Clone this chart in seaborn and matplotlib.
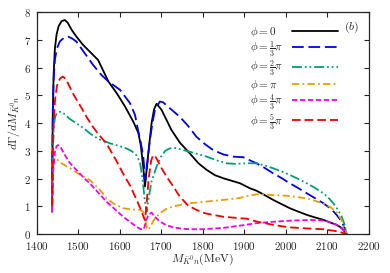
import numpy as np
import pandas as pd
import seaborn as sns
import matplotlib
matplotlib.use("Agg")
import matplotlib.pyplot as plt

# ---------------- data ----------------
x_phi0 = [1437.2, 1438, 1439, 1441, 1444, 1448, 1453, 1460, 1468, 1475, 1485, 1496, 1512, 1528,
          1548, 1573, 1593, 1613, 1633, 1645, 1651, 1657, 1661, 1665, 1669, 1677, 1683, 1689,
          1701, 1725, 1745, 1769, 1790, 1810, 1830, 1850, 1870, 1890, 1914, 1930, 1950, 1970,
          1990, 2010, 2030, 2051, 2070, 2091, 2110, 2123, 2135, 2143, 2147]
y_phi0 = [0.8, 3.0, 4.5, 5.8, 6.7, 7.2, 7.5, 7.68, 7.72, 7.62, 7.35, 7.12, 6.82, 6.58,
          6.28, 5.5, 5.08, 4.6, 4.05, 3.65, 3.2, 2.4, 1.71, 2.3, 2.9, 4.0, 4.5, 4.7,
          4.48, 3.75, 3.3, 2.91, 2.55, 2.31, 2.12, 2.01, 1.92, 1.83, 1.65, 1.56, 1.4, 1.23,
          1.08, 0.93, 0.81, 0.69, 0.6, 0.51, 0.4, 0.33, 0.22, 0.08, 0.0]

x_phi1 = [1437.2, 1438, 1439, 1441, 1444, 1449, 1456, 1466, 1476, 1486, 1496, 1516, 1536,
          1556, 1573, 1601, 1625, 1637, 1645, 1651, 1657, 1662, 1667, 1673, 1679, 1685,
          1697, 1705, 1720, 1745, 1765, 1785, 1805, 1825, 1850, 1874, 1898, 1915, 1930,
          1950, 1970, 1990, 2010, 2030, 2051, 2070, 2091, 2110, 2123, 2135, 2143, 2147]
y_phi1 = [0.8, 3.0, 4.5, 5.6, 6.3, 6.7, 6.95, 7.08, 7.12, 7.05, 6.94, 6.52, 6.1,
          5.74, 5.5, 5.2, 4.72, 4.3, 3.7, 3.3, 2.79, 1.95, 2.6, 3.39, 4.0, 4.48,
          4.78, 4.75, 4.55, 4.23, 3.9, 3.51, 3.25, 3.03, 2.87, 2.79, 2.77, 2.65, 2.55,
          2.38, 2.19, 2.02, 1.83, 1.66, 1.47, 1.3, 1.11, 0.9, 0.69, 0.45, 0.2, 0.0]

x_phi2 = [1437.2, 1439, 1441, 1445, 1450, 1456, 1465, 1480, 1500, 1515, 1528, 1550, 1577,
          1600, 1616, 1630, 1640, 1649, 1655, 1660, 1665, 1670, 1677, 1689, 1700, 1710,
          1721, 1735, 1753, 1780, 1810, 1835, 1858, 1880, 1906, 1930, 1950, 1970, 1990,
          2010, 2030, 2051, 2070, 2091, 2105, 2115, 2125, 2135, 2142, 2147]
y_phi2 = [0.8, 3.0, 3.9, 4.25, 4.38, 4.41, 4.35, 4.15, 3.95, 3.8, 3.63, 3.42, 3.27,
          3.17, 3.09, 2.98, 2.85, 2.6, 2.0, 1.3, 0.8, 1.3, 1.9, 2.43, 2.8, 3.0,
          3.09, 3.1, 3.03, 2.92, 2.79, 2.65, 2.55, 2.53, 2.55, 2.55, 2.47, 2.37, 2.26,
          2.13, 1.99, 1.83, 1.67, 1.47, 1.28, 1.11, 0.9, 0.63, 0.35, 0.0]

x_phi3 = [1437.2, 1439, 1441, 1444, 1450, 1460, 1475, 1488, 1500, 1515, 1528, 1540, 1555,
          1568, 1585, 1608, 1630, 1649, 1657, 1662, 1666, 1669, 1674, 1682, 1697, 1712,
          1729, 1750, 1769, 1790, 1810, 1830, 1850, 1870, 1890, 1910, 1930, 1950, 1970,
          1990, 2010, 2030, 2051, 2070, 2091, 2110, 2123, 2135, 2143, 2147]
y_phi3 = [0.8, 2.0, 2.6, 2.75, 2.68, 2.55, 2.42, 2.31, 2.18, 2.05, 1.95, 1.78, 1.55,
          1.29, 1.1, 0.93, 0.88, 0.87, 0.8, 0.5, 0.2, 0.14, 0.25, 0.5, 0.75, 0.9,
          0.99, 1.06, 1.11, 1.14, 1.17, 1.2, 1.23, 1.26, 1.3, 1.38, 1.43, 1.43, 1.4,
          1.39, 1.37, 1.33, 1.28, 1.2, 1.1, 0.95, 0.78, 0.5, 0.2, 0.0]

x_phi4 = [1437.2, 1440, 1444, 1448, 1452, 1458, 1468, 1478, 1488, 1500, 1515, 1528, 1548,
          1568, 1588, 1608, 1628, 1642, 1650, 1656, 1660, 1664, 1670, 1677, 1685, 1697,
          1712, 1729, 1750, 1769, 1800, 1850, 1900, 1930, 1970, 2010, 2051, 2080, 2100,
          2123, 2135, 2143, 2147]
y_phi4 = [0.8, 2.3, 2.95, 3.17, 3.21, 3.12, 2.85, 2.6, 2.43, 2.25, 2.0, 1.83, 1.5,
          1.17, 0.9, 0.63, 0.4, 0.25, 0.18, 0.15, 0.25, 0.5, 0.7, 0.77, 0.62, 0.45,
          0.32, 0.24, 0.19, 0.17, 0.17, 0.22, 0.32, 0.39, 0.44, 0.48, 0.5, 0.5, 0.46,
          0.33, 0.2, 0.08, 0.0]

x_phi5 = [1437.2, 1439, 1441, 1444, 1449, 1456, 1463, 1470, 1480, 1490, 1500, 1510, 1520,
          1535, 1550, 1568, 1590, 1608, 1625, 1641, 1652, 1658, 1661, 1665, 1670, 1676,
          1681, 1688, 1700, 1713, 1730, 1745, 1765, 1785, 1805, 1825, 1850, 1866, 1890,
          1906, 1930, 1950, 1970, 1990, 2010, 2030, 2051, 2091, 2123, 2147]
y_phi5 = [1.0, 3.0, 4.0, 4.8, 5.35, 5.6, 5.68, 5.6, 5.3, 5.0, 4.75, 4.5, 4.23,
          3.88, 3.58, 3.27, 2.7, 2.19, 1.75, 1.23, 0.85, 0.6, 0.5, 1.1, 2.0, 2.65,
          2.85, 2.75, 2.4, 2.07, 1.7, 1.35, 1.03, 0.87, 0.75, 0.69, 0.62, 0.6, 0.57,
          0.55, 0.45, 0.39, 0.33, 0.28, 0.24, 0.22, 0.2, 0.17, 0.1, 0.0]

labels = [r"$\phi = 0$", r"$\phi = \frac{1}{3}\pi$", r"$\phi = \frac{2}{3}\pi$",
          r"$\phi = \pi$", r"$\phi = \frac{4}{3}\pi$", r"$\phi = \frac{5}{3}\pi$"]
xs = [x_phi0, x_phi1, x_phi2, x_phi3, x_phi4, x_phi5]
ys = [y_phi0, y_phi1, y_phi2, y_phi3, y_phi4, y_phi5]

colors = ["#000000", "#0000ee", "#009e73", "#e69f00", "#ee00ee", "#ee0000"]
dash_styles = [None, (6.5, 2.6), (5.5, 1.6, 1.0, 1.6, 1.0, 1.6), (4.0, 1.8, 1.0, 1.8),
               (3.0, 1.4), (4.8, 2.2)]

# ---------------- plotting ----------------
sns.set_style("ticks")
plt.rcParams["font.family"] = ["serif"]
plt.rcParams["font.serif"] = ["cmr10", "DejaVu Serif"]
plt.rcParams["mathtext.fontset"] = "cm"
plt.rcParams["axes.formatter.use_mathtext"] = True
plt.rcParams["axes.unicode_minus"] = False

fig = plt.figure(figsize=(3.9, 2.73), dpi=100)
ax = fig.add_axes([0.094, 0.143, 0.851, 0.812])

for x, y, lab, c, d in zip(xs, ys, labels, colors, dash_styles):
    df = pd.DataFrame({"x": x, "y": y})
    sns.lineplot(data=df, x="x", y="y", ax=ax, color=c, lw=1.3, label=lab,
                 sort=False, estimator=None)
    line = ax.get_lines()[-1]
    if d is not None:
        line.set_dashes(d)

ax.set_xlim(1400, 2200)
ax.set_ylim(0, 8)
ax.set_xticks(np.arange(1400, 2201, 100))
ax.set_yticks(np.arange(0, 9, 1))
ax.tick_params(direction="in", top=True, right=True, labelsize=8, length=3.5, width=0.8)
ax.tick_params(axis="x", pad=4.5)
ax.tick_params(axis="y", pad=4)
for s in ax.spines.values():
    s.set_linewidth(0.9)

ax.set_xlabel(r"$M_{\bar{K}^0 n}$(MeV)", fontsize=8.5, labelpad=0)
ax.set_ylabel(r"$d\Gamma/dM_{\bar{K}^0 n}$", fontsize=8.5, labelpad=1)

leg = ax.legend(loc="upper right", bbox_to_anchor=(0.908, 0.941), frameon=False,
                markerfirst=False, fontsize=8, handlelength=4.1, labelspacing=0.0,
                handletextpad=0.9, borderaxespad=0.0, borderpad=0.0)
ax.text(0.95, 0.93, r"$(b)$", transform=ax.transAxes, fontsize=8.5, ha="center", va="center")

# left-align the legend texts (lines stay aligned on the right)
fig.canvas.draw()
texts = leg.get_texts()
x0s = [t.get_window_extent().x0 for t in texts]
xmin = min(x0s)
for t, x0 in zip(texts, x0s):
    px, py = t.get_position()
    t.set_position((px - (x0 - xmin), py))

fig.savefig("out.png", dpi=100)
